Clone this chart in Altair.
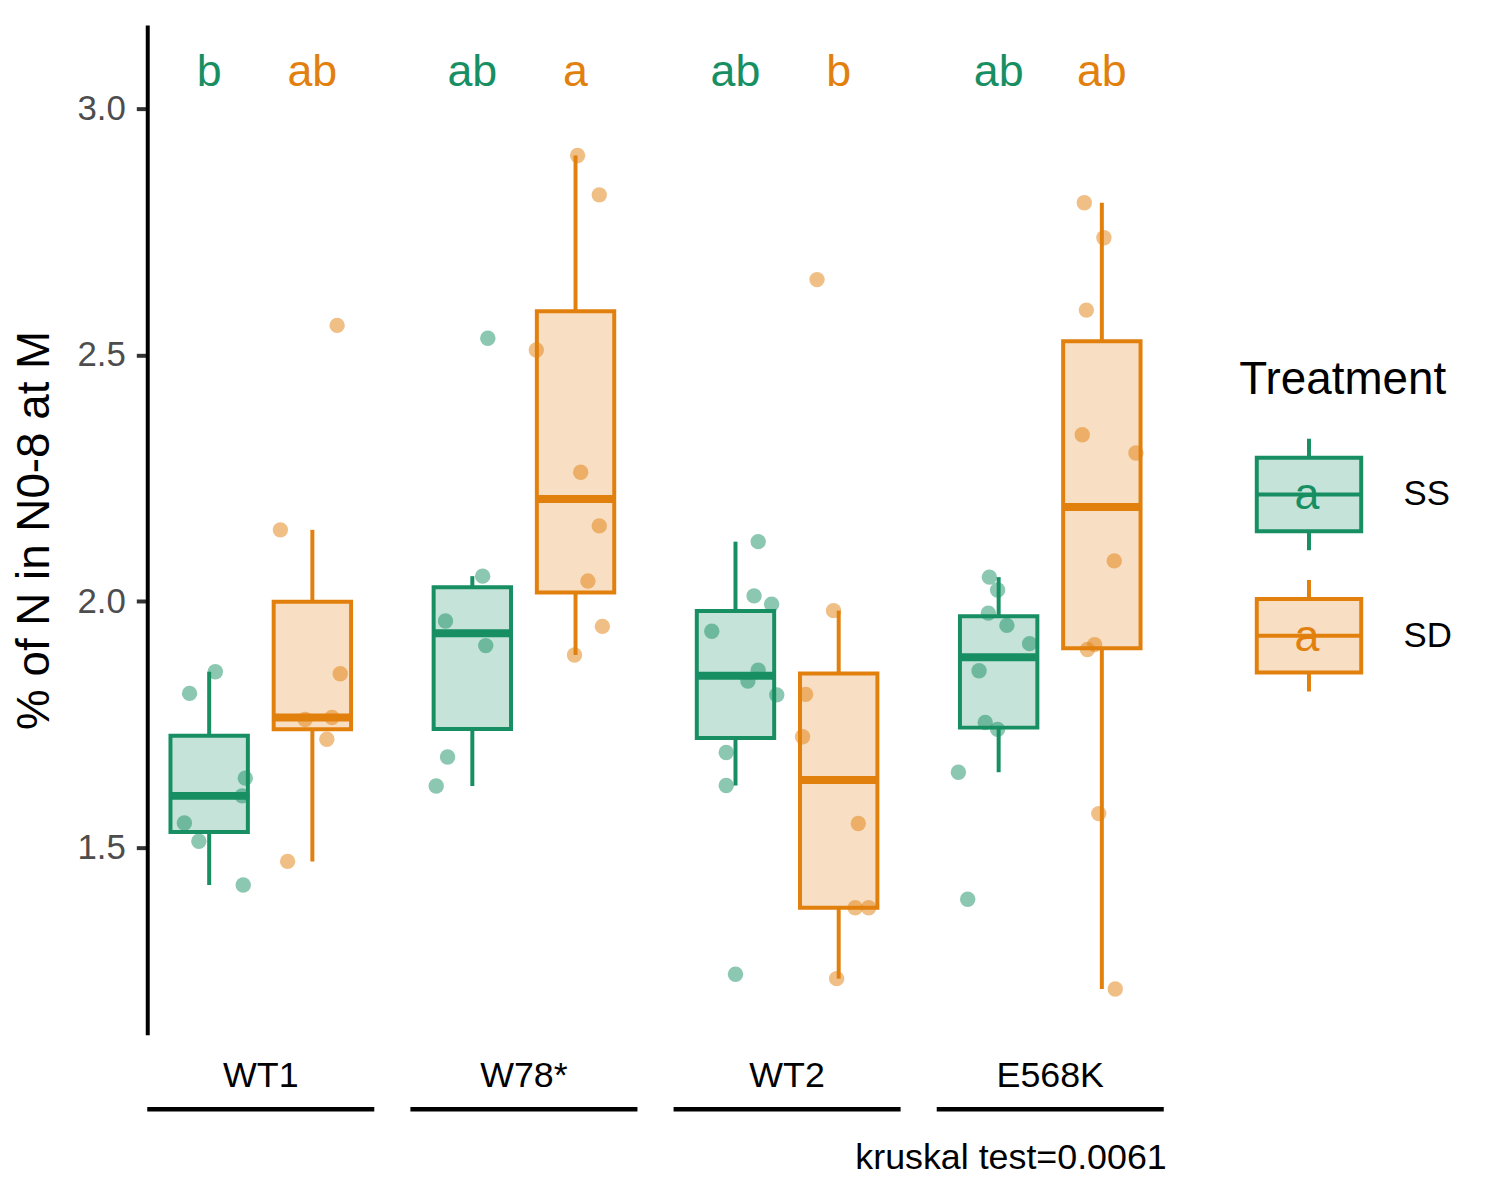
import numpy as np
import pandas as pd
import altair as alt

FONT = "Liberation Sans"

# ---------------- data ----------------
genotypes = ["WT1", "W78*", "WT2", "E568K"]
treatments = ["SS", "SD"]
colors_dark = ["#178F63", "#E2800E"]
colors_fill = ["rgba(23,143,99,0.25)", "rgba(226,128,14,0.25)"]

wt1_ss = [1.813, 1.857, 1.641, 1.605, 1.550, 1.513, 1.424]
wt1_ss_jit = [-0.19, 0.06, 0.35, 0.32, -0.24, -0.10, 0.33]
wt1_sd = [2.145, 2.560, 1.853, 1.760, 1.764, 1.720, 1.472]
wt1_sd_jit = [-0.31, 0.24, 0.27, -0.07, 0.19, 0.14, -0.24]

w78_ss = [2.534, 2.051, 1.960, 1.910, 1.684, 1.625]
w78_ss_jit = [0.15, 0.10, -0.26, 0.13, -0.24, -0.35]
w78_sd = [2.905, 2.825, 2.510, 2.262, 2.153, 2.041, 1.949, 1.891]
w78_sd_jit = [0.02, 0.23, -0.38, 0.05, 0.23, 0.12, 0.26, -0.01]

wt2_ss = [2.121, 2.011, 1.994, 1.939, 1.860, 1.838, 1.810, 1.693, 1.626, 1.243]
wt2_ss_jit = [0.22, 0.18, 0.35, -0.23, 0.22, 0.12, 0.40, -0.09, -0.09, 0.00]
wt2_sd = [2.653, 1.981, 1.811, 1.725, 1.549, 1.378, 1.378, 1.234]
wt2_sd_jit = [-0.21, -0.05, -0.32, -0.35, 0.19, 0.16, 0.29, -0.02]

e568k_ss = [2.049, 2.023, 1.976, 1.951, 1.914, 1.859, 1.754, 1.740, 1.653, 1.395]
e568k_ss_jit = [-0.09, -0.01, -0.10, 0.08, 0.30, -0.19, -0.13, -0.01, -0.39, -0.30]
e568k_sd = [2.809, 2.738, 2.591, 2.338, 2.301, 2.082, 1.912, 1.902, 1.569, 1.213]
e568k_sd_jit = [-0.17, 0.02, -0.15, -0.19, 0.33, 0.12, -0.07, -0.14, -0.03, 0.13]

letters_ss = ["b", "ab", "ab", "ab"]
letters_sd = ["ab", "a", "b", "ab"]
legend_key_letter = "a"
letter_y = 3.045
caption = "kruskal test=0.0061"
y_title = "% of N in N0-8 at M"
y_ticks = [1.5, 2.0, 2.5, 3.0]
y_domain = [1.1203, 3.1696]

groups = {
    ("WT1", "SS"): (wt1_ss, wt1_ss_jit), ("WT1", "SD"): (wt1_sd, wt1_sd_jit),
    ("W78*", "SS"): (w78_ss, w78_ss_jit), ("W78*", "SD"): (w78_sd, w78_sd_jit),
    ("WT2", "SS"): (wt2_ss, wt2_ss_jit), ("WT2", "SD"): (wt2_sd, wt2_sd_jit),
    ("E568K", "SS"): (e568k_ss, e568k_ss_jit), ("E568K", "SD"): (e568k_sd, e568k_sd_jit),
}

# ---------------- layout constants (panel units) ----------------
panel_units = 2.2      # two boxes + expansion
gap_units = 0.35       # space between genotype panels
box_half = 0.375
x_domain = [0, len(genotypes) * panel_units + (len(genotypes) - 1) * gap_units]
W, H = 1022, 1015


def center(k, t):
    return k * (panel_units + gap_units) + 0.6 + t


pt_rows, box_rows, let_rows = [], [], []
for k, g in enumerate(genotypes):
    for t, tr in enumerate(treatments):
        vals, jit = groups[(g, tr)]
        c = center(k, t)
        for v, j in zip(vals, jit):
            pt_rows.append({"genotype": g, "Treatment": tr, "value": v, "x": c + j})
        a = np.array(vals)
        q1, med, q3 = np.percentile(a, [25, 50, 75])
        iqr = q3 - q1
        lo = a[a >= q1 - 1.5 * iqr].min()
        hi = a[a <= q3 + 1.5 * iqr].max()
        box_rows.append({"genotype": g, "Treatment": tr, "c": c,
                         "left": c - box_half, "right": c + box_half,
                         "q1": q1, "med": med, "q3": q3, "lo": lo, "hi": hi})
        let_rows.append({"Treatment": tr, "c": c,
                         "letter": (letters_ss if t == 0 else letters_sd)[k]})

points = pd.DataFrame(pt_rows)
boxes = pd.DataFrame(box_rows)
lets = pd.DataFrame(let_rows)
panels = pd.DataFrame({
    "genotype": genotypes,
    "start": [k * (panel_units + gap_units) for k in range(len(genotypes))],
})
panels["end"] = panels["start"] + panel_units
panels["mid"] = panels["start"] + panel_units / 2
cap_df = pd.DataFrame({"caption": [caption]})

# ---------------- scales / encodings ----------------
xs = alt.Scale(domain=x_domain, nice=False, zero=False)
ys = alt.Scale(domain=y_domain, nice=False, zero=False)
y_axis = alt.Axis(
    title=y_title, values=y_ticks, format=".1f", grid=False,
    domainColor="black", domainWidth=4, tickColor="#333333", tickWidth=4,
    tickSize=11, labelFontSize=35, labelColor="#4D4D4D", labelFont=FONT,
    labelPadding=11, titleFontSize=46, titleFont=FONT, titleFontWeight="normal",
    titleColor="black", titlePadding=19,
)
# colour for points / lines / letters (data-driven domain, sorted SS, SD)
color = alt.Color("Treatment:N", sort=treatments,
                  scale=alt.Scale(range=colors_dark), legend=None)

# legend geometry (pixels, relative to plot origin)
LEG_X, LEG_Y = 1098, 335
KEY_CX = 1314 - 148          # centre of the letter inside the legend keys
KEY_Y = [495 - 22, 637 - 22]  # centres of legend keys

box_symbol = ("M-0.9375,-0.66H0.9375V0.66H-0.9375Z"
              "M0,-1V-0.66M0,0.66V1M-0.9375,0H0.9375")
legend = alt.Legend(
    title="Treatment", orient="none", legendX=LEG_X, legendY=LEG_Y,
    symbolType=box_symbol, symbolSize=12544, symbolStrokeWidth=4,
    symbolOffset=12, labelOffset=37, rowPadding=14, titlePadding=33,
    titleFontSize=46, titleFont=FONT, titleFontWeight="normal", titleColor="black",
    titleLimit=600, labelLimit=300,
    labelFontSize=35, labelFont=FONT, labelColor="black", padding=0,
)

base_box = alt.Chart(boxes)

whisk_lo = base_box.mark_rule(strokeWidth=4).encode(
    x=alt.X("c:Q", scale=xs, axis=None),
    y=alt.Y("lo:Q", scale=ys, axis=y_axis),
    y2="q1:Q",
    color=color,
)
whisk_hi = base_box.mark_rule(strokeWidth=4).encode(
    x=alt.X("c:Q", scale=xs, axis=None),
    y=alt.Y("q3:Q", scale=ys, axis=y_axis),
    y2="hi:Q",
    color=color,
)

rects = base_box.mark_rect(strokeWidth=4).encode(
    x=alt.X("left:Q", scale=xs, axis=None),
    x2="right:Q",
    y=alt.Y("q1:Q", scale=ys, axis=y_axis),
    y2="q3:Q",
    fill=alt.Fill("Treatment:N", scale=alt.Scale(domain=treatments, range=colors_fill), legend=legend),
    stroke=alt.Stroke("Treatment:N", scale=alt.Scale(domain=treatments, range=colors_dark), legend=legend),
)

medians = base_box.mark_rule(strokeWidth=8).encode(
    x=alt.X("left:Q", scale=xs, axis=None),
    x2="right:Q",
    y=alt.Y("med:Q", scale=ys, axis=y_axis),
    color=color,
)

dots = alt.Chart(points).mark_circle(size=240, opacity=0.5).encode(
    x=alt.X("x:Q", scale=xs, axis=None),
    y=alt.Y("value:Q", scale=ys, axis=y_axis),
    color=color,
)

letters = alt.Chart(lets).mark_text(fontSize=45, font=FONT, baseline="alphabetic").encode(
    x=alt.X("c:Q", scale=xs, axis=None),
    y=alt.YDatum(letter_y, scale=ys, axis=y_axis),
    text="letter:N",
    color=color,
)

# the letter glyph ggplot draws inside each legend key (shows through the key fill)
key_letters = [
    alt.Chart(pd.DataFrame({"Treatment": [tr], "letter": [legend_key_letter]}))
    .mark_text(fontSize=45, font=FONT, baseline="middle", align="center")
    .encode(x=alt.value(KEY_CX), y=alt.value(ky), text="letter:N", color=color)
    for tr, ky in zip(treatments, KEY_Y)
]

geno_labels = alt.Chart(panels).mark_text(
    fontSize=36, font=FONT, color="black", baseline="alphabetic"
).encode(
    x=alt.X("mid:Q", scale=xs, axis=None),
    y=alt.value(H + 53),
    text="genotype:N",
)

underlines = alt.Chart(panels).mark_rule(strokeWidth=4.3, color="black").encode(
    x=alt.X("start:Q", scale=xs, axis=None),
    x2="end:Q",
    y=alt.value(H + 75),
)

caption_text = alt.Chart(cap_df).mark_text(
    fontSize=36, font=FONT, color="black", align="right", baseline="alphabetic"
).encode(
    x=alt.value(W + 3),
    y=alt.value(H + 135),
    text="caption:N",
)

chart = alt.layer(
    whisk_lo, whisk_hi, rects, medians, dots, letters, *key_letters,
    geno_labels, underlines, caption_text
).properties(
    width=W, height=H,
    autosize=alt.AutoSizeParams(type="none"),
    padding={"left": 140, "top": 14, "right": 330, "bottom": 150},
    background="white",
).configure_view(stroke=None)

chart.save("out.html", embed_options={"renderer": "svg", "actions": False})
